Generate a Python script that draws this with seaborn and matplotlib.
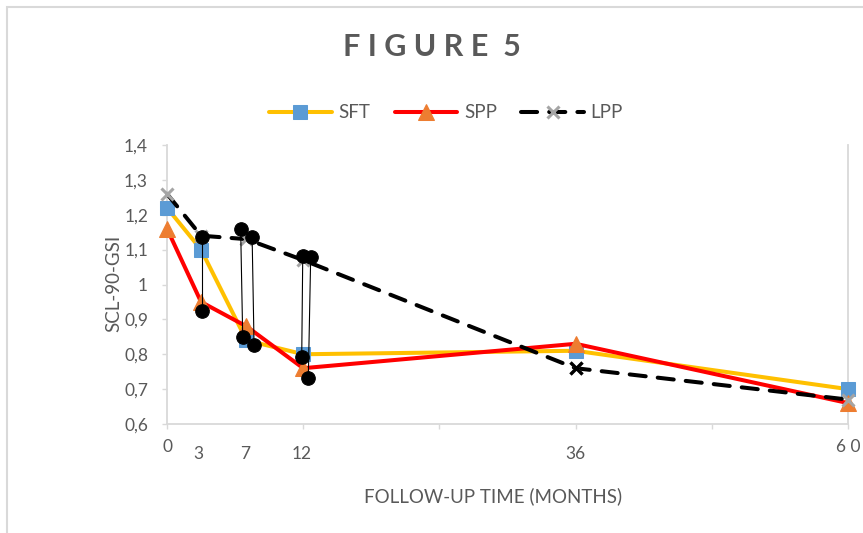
import matplotlib
matplotlib.use("Agg")
import matplotlib.pyplot as plt
import matplotlib.transforms as mtransforms
from matplotlib.patches import Rectangle
import seaborn as sns
import pandas as pd

# Follow-up time points (months) and mean SCL-90-GSI per group
months = [0, 3, 7, 12, 36, 60]
sft = [1.22, 1.10, 0.84, 0.80, 0.81, 0.70]
spp = [1.16, 0.95, 0.88, 0.76, 0.83, 0.66]
lpp = [1.26, 1.14, 1.13, 1.07, 0.76, 0.67]

# Pairwise comparison brackets (top point -> bottom point)
cmp_x_top = [3.06, 6.49, 7.50, 11.96, 12.66]
cmp_y_top = [1.137, 1.158, 1.137, 1.082, 1.080]
cmp_x_bot = [3.06, 6.67, 7.67, 11.87, 12.45]
cmp_y_bot = [0.925, 0.850, 0.827, 0.793, 0.731]

# Axis text
y_ticks = [0.6, 0.7, 0.8, 0.9, 1.0, 1.1, 1.2, 1.3, 1.4]
y_tick_labels = ["0,6", "0,7", "0,8", "0,9", "1", "1,1", "1,2", "1,3", "1,4"]
x_ticks = [0, 12, 24, 36, 48, 60]
x_label_pos = [0, 2.8, 6.9, 11.9, 36, 60]
x_label_text = ["0", "3", "7", "12", "36", "6 0"]
x_label_raised = [True, False, False, False, False, True]

TXT = "#595959"
GRID = "#d9d9d9"
FS = 12.5

sns.set_theme(style="white")
plt.rcParams["font.family"] = ["Lato", "DejaVu Sans"]

fig = plt.figure(figsize=(8.63, 5.33), dpi=100)
ax = fig.add_axes([167 / 863, 1 - 424 / 533, (848 - 167) / 863, (424 - 145) / 533])

df = pd.DataFrame({"month": months, "SFT": sft, "SPP": spp, "LPP": lpp})

sns.lineplot(data=df, x="month", y="SFT", ax=ax, color="#FFC000", linewidth=2.9,
             marker="s", markersize=10, markerfacecolor="#5B9BD5",
             markeredgecolor="#5B9BD5", label="SFT", zorder=3, clip_on=False)
sns.lineplot(data=df, x="month", y="SPP", ax=ax, color="#FF0000", linewidth=2.9,
             marker="^", markersize=11, markerfacecolor="#ED7D31",
             markeredgecolor="#ED7D31", label="SPP", zorder=4, clip_on=False)
lpp_line = sns.lineplot(data=df, x="month", y="LPP", ax=ax, color="black", linewidth=2.9,
                        marker="x", markersize=9, markeredgewidth=2.2,
                        markerfacecolor="#A5A5A5", markeredgecolor="#A5A5A5",
                        label="LPP", zorder=5, clip_on=False).lines[-1]
lpp_line.set_dashes((4, 3))
lpp_line.set_dash_capstyle("round")

# the 36-month LPP marker is drawn in black
ax.plot(months[4], lpp[4], marker="x", markersize=9, markeredgewidth=2.4,
        color="black", linestyle="none", zorder=6)

# comparison brackets
for xt, yt, xb, yb in zip(cmp_x_top, cmp_y_top, cmp_x_bot, cmp_y_bot):
    ax.plot([xt, xb], [yt, yb], color="black", linewidth=0.8, zorder=7)
sns.scatterplot(x=cmp_x_top + cmp_x_bot, y=cmp_y_top + cmp_y_bot, ax=ax,
                color="black", s=95, edgecolor="black", zorder=8, legend=False)

ax.set_xlim(0, 60)
ax.set_ylim(0.6, 1.4)
ax.set_yticks(y_ticks)
ax.set_yticklabels(y_tick_labels)
ax.set_xticks(x_ticks)
ax.set_xticklabels([])

ax.spines["top"].set_visible(False)
for side in ["left", "bottom", "right"]:
    ax.spines[side].set_color(GRID)
    ax.spines[side].set_linewidth(1.3)
ax.tick_params(axis="y", which="major", left=True, length=3.6, width=1.0, color=GRID,
               labelcolor=TXT, labelsize=FS, pad=10)
ax.tick_params(axis="x", which="major", bottom=True, length=3.6, width=1.0, color=GRID)

# month labels under the axis
trans = mtransforms.blended_transform_factory(ax.transData, fig.transFigure)
for xp, t, raised in zip(x_label_pos, x_label_text, x_label_raised):
    ypix = 447 if raised else 454
    ax.text(xp, 1 - ypix / 533, t, transform=trans, ha="center", va="center",
            color=TXT, fontsize=FS, clip_on=False)

ax.set_xlabel("FOLLOW-UP TIME (MONTHS)", color=TXT, fontsize=13.5)
ax.xaxis.set_label_coords((493 - 167) / 681, (424 - 487) / 279)
ax.set_ylabel("SCL-90-GSI", color=TXT, fontsize=13.5)
ax.yaxis.set_label_coords((122 - 167) / 681, (424 - 283) / 279)

# title
fig.text(0.5, 1 - 47 / 533, "F I G U R E  5", ha="center", va="center",
         color=TXT, fontsize=22, fontweight="bold")

# legend
handles, labels = ax.get_legend_handles_labels()
ax.get_legend().remove()
leg = fig.legend(handles, labels, loc="center", bbox_to_anchor=(446 / 863, 1 - 113 / 533),
                 ncol=3, frameon=False, fontsize=13.5, handlelength=3.35,
                 handletextpad=0.35, columnspacing=1.3, numpoints=1)
for t in leg.get_texts():
    t.set_color(TXT)

# chart frame
fig.patches.append(Rectangle((7 / 863, -0.2), 2.0, 1.2 - 7 / 533,
                             transform=fig.transFigure, fill=False,
                             edgecolor=GRID, linewidth=1.5, zorder=0))

fig.savefig("out.png", dpi=100, facecolor="white")
